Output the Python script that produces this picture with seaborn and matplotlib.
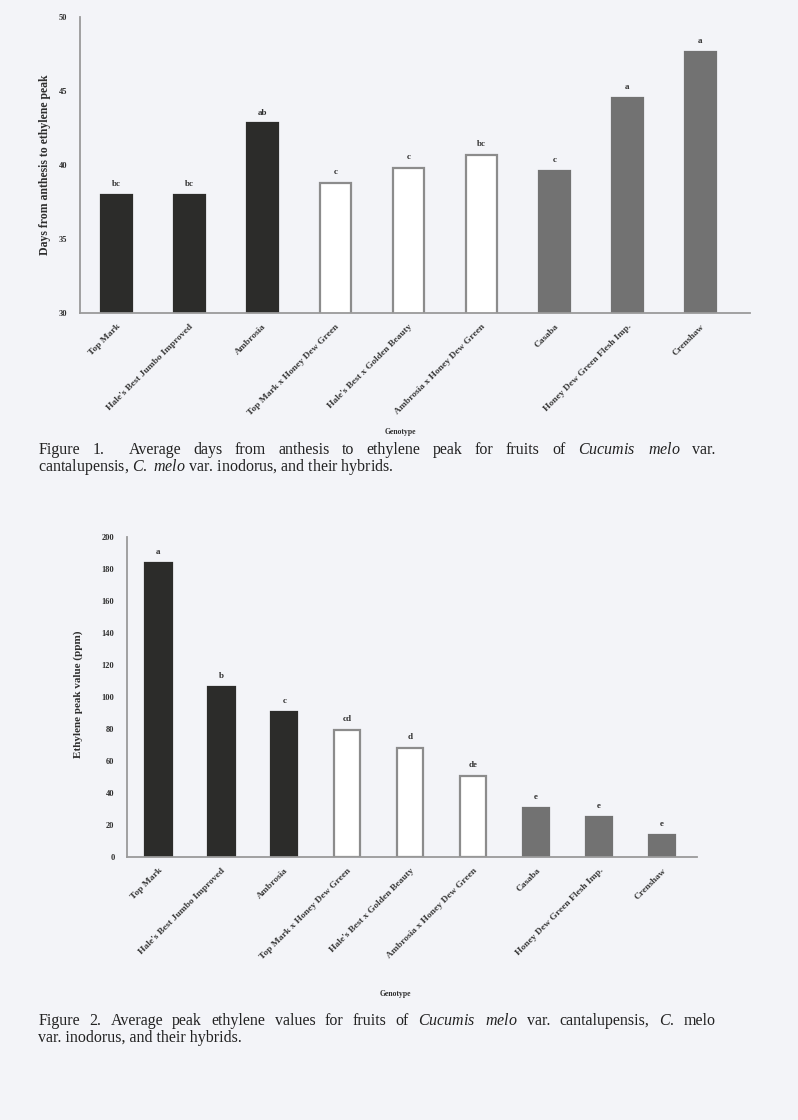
import matplotlib
matplotlib.use("Agg")
import matplotlib.pyplot as plt
import seaborn as sns
import pandas as pd

# Genotypes (same order in both figures) and their group
genotypes = [
    "Top Mark",
    "Hale's Best Jumbo Improved",
    "Ambrosia",
    "Top Mark x Honey Dew Green",
    "Hale's Best x Golden Beauty",
    "Ambrosia x Honey Dew Green",
    "Casaba",
    "Honey Dew Green Flesh Imp.",
    "Crenshaw",
]
groups = ["cantalupensis"] * 3 + ["hybrid"] * 3 + ["inodorus"] * 3

# Figure 1: days from anthesis to ethylene peak
days_to_peak = [38.0, 38.0, 42.8, 38.8, 39.8, 40.7, 39.6, 44.5, 47.6]
days_letters = ["bc", "bc", "ab", "c", "c", "bc", "c", "a", "a"]
days_ticks = [30, 35, 40, 45, 50]

# Figure 2: peak ethylene values
peak_ethylene = [184, 106.5, 90.3, 79.6, 68.3, 50.8, 30.7, 25.0, 13.8]
peak_letters = ["a", "b", "c", "cd", "d", "de", "e", "e", "e"]
peak_ticks = [0, 20, 40, 60, 80, 100, 120, 140, 160, 180, 200]

sns.set_style("white")
plt.rcParams["font.family"] = ["Liberation Serif", "DejaVu Serif"]
plt.rcParams["mathtext.fontset"] = "custom"
plt.rcParams["mathtext.rm"] = "Liberation Serif"
plt.rcParams["mathtext.it"] = "Liberation Serif:italic"

paper = "#f3f4f8"
fill = {"cantalupensis": "#2c2c2a", "hybrid": "#ffffff", "inodorus": "#727272"}
edge = {"cantalupensis": "#2c2c2a", "hybrid": "#8c8c8c", "inodorus": "#727272"}
axis_col = "#9a9a9a"
ink = "#2e2e2e"

fig = plt.figure(figsize=(7.98, 11.2), dpi=100, facecolor=paper)


def draw_panel(ax, values, letters, ticks, xlim):
    df = pd.DataFrame({"genotype": genotypes, "value": values, "group": groups})
    sns.barplot(data=df, x="genotype", y="value", hue="group", order=genotypes,
                hue_order=list(fill), palette=fill, dodge=False, width=0.42,
                legend=False, ax=ax, linewidth=1.6)
    for patch in ax.patches:
        if patch.get_height() == 0:
            continue
        i = int(round(patch.get_x() + patch.get_width() / 2))
        patch.set_edgecolor(edge[groups[i]])
    for i, (v, lab) in enumerate(zip(values, letters)):
        ax.annotate(lab, (i, v), xytext=(0, 5), textcoords="offset points",
                    ha="center", va="bottom", fontsize=6.5, fontweight="bold",
                    color=ink)
    ax.set_facecolor(paper)
    ax.set_ylim(ticks[0], ticks[-1])
    ax.set_yticks(ticks)
    ax.set_yticklabels([str(t) for t in ticks], fontsize=6, fontweight="bold",
                       color=ink)
    ax.set_xlim(*xlim)
    ax.set_xticks(range(len(genotypes)))
    ax.set_xticklabels(genotypes, rotation=45, ha="right",
                       rotation_mode="anchor", fontsize=6.8,
                       fontweight="bold", color="#3a3a3a")
    ax.tick_params(axis="y", length=3, width=0.8, color=axis_col, pad=6)
    ax.tick_params(axis="x", length=0, pad=7)
    for s in ("top", "right"):
        ax.spines[s].set_visible(False)
    for s in ("left", "bottom"):
        ax.spines[s].set_color(axis_col)
        ax.spines[s].set_linewidth(1.3)
    ax.set_xlabel("")
    ax.set_ylabel("")


ax1 = fig.add_axes([0.100, 0.7205, 0.84, 0.2645])
draw_panel(ax1, days_to_peak, days_letters, days_ticks, (-0.5, 8.68))

ax2 = fig.add_axes([0.159, 0.235, 0.714, 0.2855])
draw_panel(ax2, peak_ethylene, peak_letters, peak_ticks, (-0.5, 8.55))

# Axis titles
fig.text(0.056, 0.853, "Days from anthesis to ethylene peak", rotation=90,
         ha="center", va="center", fontsize=8.5, fontweight="bold", color=ink)
fig.text(0.098, 0.380, "Ethylene peak value (ppm)", rotation=90,
         ha="center", va="center", fontsize=8, fontweight="bold", color=ink)
fig.text(0.502, 0.614, "Genotype", ha="center", va="center", fontsize=5.5,
         fontweight="bold", color=ink)
fig.text(0.496, 0.1125, "Genotype", ha="center", va="center", fontsize=5.5,
         fontweight="bold", color=ink)

# Captions: first line of each is justified across the text block
cap = dict(va="center", fontsize=11.5, color="#222222")
left_x, right_x = 0.048, 0.897
renderer = fig.canvas.get_renderer()


def justified_line(y, words):
    items = [fig.text(0, y, w, ha="left", **cap) for w in words]
    widths = [t.get_window_extent(renderer).width / fig.bbox.width for t in items]
    gap = (right_x - left_x - sum(widths)) / (len(words) - 1)
    x = left_x
    for t, w in zip(items, widths):
        t.set_x(x)
        x += w + gap


justified_line(0.598, ["Figure", "1.", "", "Average", "days", "from", "anthesis",
                       "to", "ethylene", "peak", "for", "fruits", "of",
                       r"$\it{Cucumis}$", r"$\it{melo}$", "var."])
fig.text(left_x, 0.583,
         r"cantalupensis, $\it{C.\ melo}$ var. inodorus, and their hybrids.",
         ha="left", **cap)
justified_line(0.0884, ["Figure", "2.", "Average", "peak", "ethylene", "values",
                        "for", "fruits", "of", r"$\it{Cucumis}$", r"$\it{melo}$",
                        "var.", "cantalupensis,", r"$\it{C.}$", "melo"])
fig.text(left_x, 0.073, "var. inodorus, and their hybrids.", ha="left", **cap)

fig.savefig("out.png", dpi=100, facecolor=paper)
